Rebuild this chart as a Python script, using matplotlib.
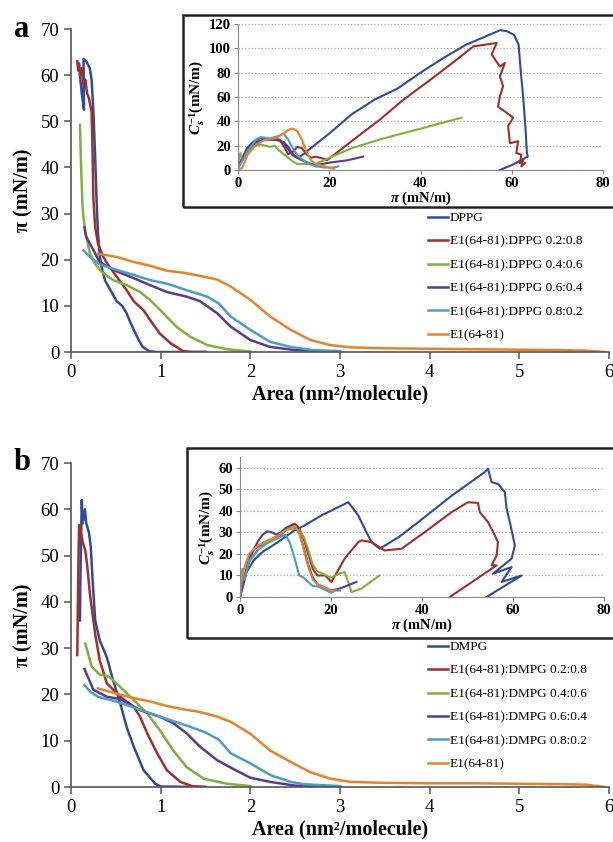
import matplotlib.pyplot as plt
from matplotlib.patches import Rectangle

plt.rcParams['font.family'] = ['Liberation Serif', 'DejaVu Serif']
plt.rcParams['mathtext.fontset'] = 'custom'
plt.rcParams['mathtext.rm'] = 'Liberation Serif:bold'
plt.rcParams['mathtext.it'] = 'Liberation Serif:italic:bold'
plt.rcParams['mathtext.bf'] = 'Liberation Serif:bold'

colors = ['#2f4b9c', '#9e2f2c', '#7fb03c', '#5a3a8e', '#4a9ec4', '#e5822c']
labels_a = ['DPPG', 'E1(64-81):DPPG 0.2:0.8', 'E1(64-81):DPPG 0.4:0.6',
            'E1(64-81):DPPG 0.6:0.4', 'E1(64-81):DPPG 0.8:0.2', 'E1(64-81)']
labels_b = ['DMPG', 'E1(64-81):DMPG 0.2:0.8', 'E1(64-81):DMPG 0.4:0.6',
            'E1(64-81):DMPG 0.6:0.4', 'E1(64-81):DMPG 0.8:0.2', 'E1(64-81)']

# ---- panel a, isotherms (area nm2/molecule, pi mN/m)
a_dppg_x = [0.10, 0.12, 0.145, 0.14, 0.17, 0.21, 0.23, 0.25, 0.27, 0.285, 0.30, 0.32, 0.34, 0.38, 0.44, 0.51, 0.57, 0.62, 0.66, 0.70, 0.75, 0.80, 0.87, 0.95, 1.5]
a_dppg_y = [60, 56, 52.5, 63.5, 63, 61.5, 59, 52, 42, 33, 26, 21, 18.5, 15.5, 13.4, 11, 10, 8.4, 6.5, 4.8, 2.8, 1.1, 0.2, 0, 0]
a_r2_x = [0.07, 0.08, 0.09, 0.10, 0.12, 0.14, 0.16, 0.18, 0.20, 0.23, 0.24, 0.25, 0.27, 0.30, 0.35, 0.40, 0.51, 0.62, 0.70, 0.81, 0.88, 0.99, 1.11, 1.25, 1.35, 1.5]
a_r2_y = [63, 61, 62.5, 60, 61.5, 58, 59, 56, 55, 52, 44, 33, 27, 23.6, 21, 19.3, 16.3, 13.4, 11, 9, 7, 4, 1.9, 0.2, 0, 0]
a_r4_x = [0.10, 0.11, 0.12, 0.13, 0.16, 0.21, 0.26, 0.32, 0.40, 0.47, 0.62, 0.77, 0.88, 1.03, 1.18, 1.33, 1.52, 1.74, 2.0]
a_r4_y = [49.2, 42, 36, 31, 25.8, 21.5, 19.3, 17.8, 16.5, 15.6, 14.5, 13, 11.3, 8.4, 5.4, 3.3, 1.5, 0.6, 0.1]
a_r6_x = [0.15, 0.17, 0.23, 0.32, 0.47, 0.70, 0.88, 1.07, 1.29, 1.44, 1.63, 1.78, 2.0, 2.22, 2.5, 3.0]
a_r6_y = [27, 25, 22.8, 19.5, 17.8, 16, 14.5, 13, 12, 11, 8.4, 5.5, 2.6, 1.1, 0.4, 0.1]
a_r8_x = [0.14, 0.20, 0.32, 0.51, 0.70, 0.88, 1.07, 1.29, 1.52, 1.65, 1.78, 2.0, 2.22, 2.45, 2.7, 3.0]
a_r8_y = [22, 20.8, 19, 17.8, 16.7, 15.6, 14.8, 13.4, 12, 10.5, 7.7, 4.8, 2.2, 1.1, 0.4, 0.2]
a_e1_x = [0.30, 0.51, 0.70, 0.88, 1.07, 1.25, 1.44, 1.63, 1.78, 2.0, 2.22, 2.45, 2.67, 2.89, 3.12, 3.5, 4.0, 4.5, 5.0, 5.5, 5.75, 5.95]
a_e1_y = [21.3, 20.6, 19.5, 18.7, 17.6, 17.2, 16.5, 15.7, 14.2, 11.3, 7.7, 4.8, 2.6, 1.5, 1.0, 0.8, 0.7, 0.6, 0.5, 0.4, 0.3, 0.0]

# ---- panel a inset, compressibility modulus vs pi
ia_dppg_x = [0, 1, 2, 3, 4, 5, 6, 8, 10, 11, 12, 13, 14, 16, 20, 25, 30, 35, 40, 45, 50, 55, 57.5, 59, 60.5, 61.5, 62, 62.5, 63, 63.3, 63.5, 60, 57.4]
ia_dppg_y = [2, 10, 18, 22, 25, 26, 26, 25, 23, 19, 13, 10, 12, 18, 30, 46, 58, 67, 80, 92, 103, 111, 115, 114, 111, 103, 80, 60, 35, 15, 11, 4, 0]
ia_r2_x = [0, 2, 4, 6, 9, 10, 11, 12, 13, 14, 15, 16, 17, 18, 19, 19.5, 25, 31.1, 36, 42.1, 47, 51.6, 56.7, 55.6, 57.4, 58.5, 57.4, 58.1, 57.4, 57, 58.9, 60.3, 59.2, 59.6, 61.4, 61, 62.1, 61.8, 62.5, 62.1, 62.9]
ia_r2_y = [3, 17, 23, 25, 25, 20, 13, 15, 19, 18, 13, 10, 11, 10, 9, 8, 24, 41.4, 57, 74, 88, 101.6, 104.4, 95, 85, 88, 77, 69, 60.5, 52, 47, 43, 36, 22, 23.6, 14, 12.6, 5.8, 8.5, 3, 5.8]
ia_r4_x = [0, 0.5, 1, 2, 3, 4, 5, 6, 7, 8, 9, 10, 11, 12, 13, 15, 17, 20, 25, 31, 38, 44, 49]
ia_r4_y = [5, 14, 8, 14, 18, 20, 21, 20, 19, 20, 16, 13, 10, 7, 5, 5, 5, 10, 18, 25, 32, 38, 43]
ia_r6_x = [0, 2, 4, 6, 9, 10, 11, 12, 14, 16, 17, 20, 24, 27.4]
ia_r6_y = [2, 17, 23, 25, 25, 22, 17, 12, 8, 5, 4, 6, 8, 11]
ia_r8_x = [0, 2, 4, 5, 7, 9, 10, 11, 12, 13, 15, 17, 19, 21, 22]
ia_r8_y = [1, 15, 25, 27, 26, 28, 30, 25, 18, 12, 6, 3, 2, 2, 3]
ia_e1_x = [0, 1, 2, 4, 6, 8, 10, 11, 12, 13, 14, 15, 16, 17, 19, 20, 21]
ia_e1_y = [0, 2, 12, 21, 25, 26, 30, 33, 34, 32, 25, 15, 8, 5, 3, 2, 1]

# ---- panel b, isotherms
b_dmpg_x = [0.10, 0.105, 0.12, 0.13, 0.155, 0.17, 0.20, 0.22, 0.24, 0.27, 0.32, 0.40, 0.47, 0.55, 0.62, 0.70, 0.81, 0.94, 1.0, 1.5]
b_dmpg_y = [36, 45, 62, 57, 60, 57, 55, 52, 45, 36, 31.7, 28, 23, 18, 13, 8.7, 3.6, 0.7, 0.1, 0]
b_r2_x = [0.07, 0.08, 0.09, 0.11, 0.13, 0.16, 0.18, 0.21, 0.27, 0.32, 0.40, 0.55, 0.70, 0.77, 0.85, 0.96, 1.07, 1.22, 1.35, 1.5]
b_r2_y = [28.5, 45, 56.6, 55, 53, 51, 48, 41.9, 33, 27.4, 22.4, 19.5, 17.3, 15.2, 11.6, 7.3, 3.6, 1.1, 0.2, 0]
b_r4_x = [0.16, 0.23, 0.32, 0.40, 0.44, 0.55, 0.70, 0.85, 0.99, 1.14, 1.29, 1.48, 1.74, 2.0]
b_r4_y = [31, 26, 24.3, 24, 23.6, 21.6, 18.8, 15.9, 12.3, 7.9, 4.3, 1.8, 0.7, 0.2]
b_r6_x = [0.15, 0.25, 0.40, 0.55, 0.77, 0.99, 1.14, 1.29, 1.44, 1.63, 1.78, 2.0, 2.22, 2.5, 3.0]
b_r6_y = [25.5, 21, 19.5, 19, 16.6, 15.2, 13.8, 11.6, 8.7, 5.8, 4.2, 2.0, 1.1, 0.3, 0.1]
b_r8_x = [0.15, 0.22, 0.30, 0.50, 0.70, 0.90, 1.10, 1.30, 1.50, 1.65, 1.78, 2.0, 2.22, 2.45, 2.6, 3.0]
b_r8_y = [22, 20.5, 19.5, 18.5, 17.2, 15.8, 14.5, 13.2, 11.8, 10.2, 7.3, 5.1, 2.6, 1.1, 0.6, 0.2]
b_e1_x = [0.30, 0.50, 0.70, 0.88, 1.07, 1.25, 1.44, 1.63, 1.78, 2.0, 2.22, 2.45, 2.67, 2.89, 3.12, 3.5, 4.0, 4.5, 5.0, 5.5, 5.75, 5.95]
b_e1_y = [21.3, 20.2, 19.2, 18.5, 17.5, 16.8, 16.2, 15.2, 14.1, 11.5, 7.9, 5.4, 3.2, 1.8, 1.1, 0.9, 0.8, 0.8, 0.7, 0.6, 0.5, 0.0]

# ---- panel b inset
ib_dmpg_x = [0, 1, 3, 5, 8, 10, 12, 14, 18, 23.8, 26, 27.8, 28.9, 30.7, 35, 39.2, 46.5, 53.8, 54.5, 55.3, 56.7, 58.2, 58.6, 59.3, 60.4, 59.7, 55.6, 59.7, 57.5, 61.9, 54.2]
ib_dmpg_y = [0, 10, 17, 21, 25, 28, 31, 33, 38, 44, 37.9, 30, 25.5, 22.4, 28, 34.8, 47, 58, 59.5, 53.3, 52.5, 48.7, 41, 34.8, 24, 17.8, 10.8, 13.9, 7, 10, 0]
ib_r2_x = [0, 1, 2, 3, 5, 7, 9, 11, 12, 13, 14, 15, 16, 17, 18, 18.7, 20.1, 23, 26, 26.7, 28.9, 31.8, 35.5, 40.6, 46.5, 50.1, 52.3, 52.7, 54.5, 56, 56.7, 56.4, 55.3, 56.4, 46.1]
ib_r2_y = [0, 10, 18, 22, 25, 27, 29, 33, 34, 32, 27, 20, 13, 10, 10, 10, 7, 17.8, 25.5, 26.3, 25.5, 21.6, 22.4, 30.1, 39.4, 44, 43.7, 39.4, 34.8, 28.6, 25.5, 19.3, 14.7, 14.7, 0]
ib_r4_x = [0, 1, 2, 4, 6, 8, 10, 12, 13, 14, 15, 16, 17, 18, 19, 20, 21, 22, 23, 23.8, 24.5, 26.7, 29, 30.7]
ib_r4_y = [0, 8, 16, 22, 26, 28, 31, 32, 31, 28, 22, 15, 12, 11, 10, 9, 10, 11, 11.6, 7, 2.3, 3.9, 7.5, 10]
ib_r6_x = [0, 1, 2, 3, 4, 5, 6, 7, 8, 9, 10, 11, 12, 13, 14, 15, 16, 17, 18, 19, 20, 22, 25.6]
ib_r6_y = [0, 8, 17, 22, 26, 29, 30.5, 30, 29, 30, 32, 33, 33, 30, 23, 15, 9, 6, 5, 4, 3, 4, 7]
ib_r8_x = [0, 0.5, 1, 2, 4, 6, 8, 10, 11, 12, 13, 14, 15, 16, 17, 18, 19, 20, 21, 22]
ib_r8_y = [0, 13, 8, 17, 22, 25, 27, 29, 25, 18, 10, 9, 7, 5, 5, 4, 3, 2, 3, 3]
ib_e1_x = [0, 0.5, 1, 2, 4, 6, 8, 10, 12, 13, 14, 15, 16, 17, 18, 19, 20, 21]
ib_e1_y = [0, 10, 14, 20, 24, 26, 28, 31, 33, 30, 22, 14, 8, 6, 5, 4, 3, 3]

W, H = 613, 842


def box(l, t, r, b):
    # pixel box -> figure fraction
    return [l / W, 1 - b / H, (r - l) / W, (b - t) / H]


fig = plt.figure(figsize=(W / 100, H / 100), dpi=100)


def draw_panel(main_px, inset_px, frame_px, leg_px, letter, letter_px,
               curves, inset_curves, labels, inset_ymax, inset_yticks):
    ax = fig.add_axes(box(*main_px))
    for (x, y), c, lab in zip(curves, colors, labels):
        ax.plot(x, y, color=c, lw=1.8, label=lab)
    ax.set_xlim(0, 6)
    ax.set_ylim(0, 70)
    ax.set_xticks(range(7))
    ax.set_yticks(range(0, 71, 10))
    for s in ['top', 'right']:
        ax.spines[s].set_visible(False)
    for s in ['left', 'bottom']:
        ax.spines[s].set_color('#555555')
        ax.spines[s].set_linewidth(1.2)
    ax.tick_params(direction='out', length=5, color='#555555', labelsize=13.5, width=1.1)
    ax.set_xlabel('Area (nm²/molecule)', fontsize=14.5, fontweight='bold', labelpad=3)
    ax.set_ylabel('π (mN/m)', fontsize=14.5, fontweight='bold', labelpad=5)
    ax.legend(loc='upper left', bbox_to_anchor=(leg_px[0] / W, 1 - leg_px[1] / H),
              bbox_transform=fig.transFigure, frameon=False, fontsize=9.5,
              handlelength=1.5, handletextpad=0.15, labelspacing=0.85,
              borderpad=0, borderaxespad=0)
    fig.text(letter_px[0] / W, 1 - letter_px[1] / H, letter, fontsize=22,
             fontweight='bold', ha='left', va='baseline')

    fig.add_artist(Rectangle((frame_px[0] / W, 1 - frame_px[3] / H),
                             (frame_px[2] - frame_px[0]) / W,
                             (frame_px[3] - frame_px[1]) / H,
                             transform=fig.transFigure, fill=False,
                             lw=1.8, ec='#222222'))
    ins = fig.add_axes(box(*inset_px))
    for (x, y), c in zip(inset_curves, colors):
        ins.plot(x, y, color=c, lw=1.5)
    ins.set_xlim(0, 80)
    ins.set_ylim(0, inset_ymax)
    ins.set_xticks(range(0, 81, 20))
    ins.set_yticks(inset_yticks)
    ins.grid(axis='y', ls=':', color='#aaaaaa', lw=0.9)
    ins.set_axisbelow(True)
    for s in ['top', 'right']:
        ins.spines[s].set_visible(False)
    for s in ['left', 'bottom']:
        ins.spines[s].set_color('#888888')
    ins.tick_params(direction='out', length=3, color='#888888', labelsize=10.5, pad=2)
    for t in ins.get_xticklabels() + ins.get_yticklabels():
        t.set_fontweight('bold')
    ins.set_xlabel(r'$\pi$ (mN/m)', fontsize=10.5, fontweight='bold', labelpad=0)
    ins.set_ylabel(r'$C_s^{-1}$(mN/m)', fontsize=11, fontweight='bold', labelpad=2)


draw_panel((71, 29, 609, 352), (238, 24, 603, 170), (183, 15, 618, 207),
           (428, 212), 'a', (14, 37),
           [(a_dppg_x, a_dppg_y), (a_r2_x, a_r2_y), (a_r4_x, a_r4_y),
            (a_r6_x, a_r6_y), (a_r8_x, a_r8_y), (a_e1_x, a_e1_y)],
           [(ia_dppg_x, ia_dppg_y), (ia_r2_x, ia_r2_y), (ia_r4_x, ia_r4_y),
            (ia_r6_x, ia_r6_y), (ia_r8_x, ia_r8_y), (ia_e1_x, ia_e1_y)],
           labels_a, 120, range(0, 121, 20))

draw_panel((71, 463, 609, 787), (240, 457, 604, 597), (187, 448, 618, 638),
           (428, 641), 'b', (14, 470),
           [(b_dmpg_x, b_dmpg_y), (b_r2_x, b_r2_y), (b_r4_x, b_r4_y),
            (b_r6_x, b_r6_y), (b_r8_x, b_r8_y), (b_e1_x, b_e1_y)],
           [(ib_dmpg_x, ib_dmpg_y), (ib_r2_x, ib_r2_y), (ib_r4_x, ib_r4_y),
            (ib_r6_x, ib_r6_y), (ib_r8_x, ib_r8_y), (ib_e1_x, ib_e1_y)],
           labels_b, 65, range(0, 61, 10))

fig.savefig('out.png', dpi=100)
